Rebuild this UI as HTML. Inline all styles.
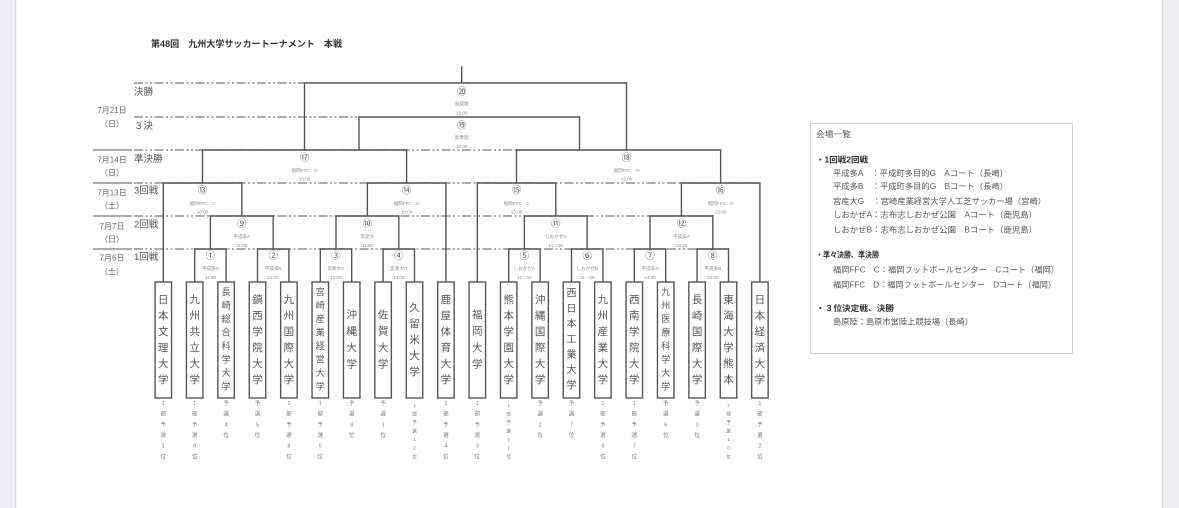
<!DOCTYPE html>
<html><head><meta charset="utf-8"><style>
html,body{margin:0;padding:0;background:#fff;}
svg{display:block;}
text{font-family:"Liberation Sans","Noto Sans CJK JP",sans-serif;}
.n{font-size:10.5px;fill:#555;text-anchor:middle;dominant-baseline:central;}
.n8{font-size:9px;fill:#555;text-anchor:middle;dominant-baseline:central;}
.n7{font-size:10px;fill:#555;text-anchor:middle;dominant-baseline:central;}
.s{font-size:5.5px;fill:#777;text-anchor:middle;dominant-baseline:central;}
.s7{font-size:4.6px;fill:#777;text-anchor:middle;dominant-baseline:central;}
.c{font-size:9.5px;fill:#555;text-anchor:middle;dominant-baseline:central;}
.v{font-size:4.6px;fill:#888;text-anchor:middle;dominant-baseline:central;}
.r{font-size:9.5px;fill:#555;dominant-baseline:central;}
.d{font-size:8px;fill:#666;text-anchor:middle;dominant-baseline:central;}
.l{font-size:8px;fill:#555;dominant-baseline:central;}
.lb{font-size:8px;fill:#333;font-weight:bold;dominant-baseline:central;}
</style></head><body>
<svg width="1179" height="508" viewBox="0 0 1179 508" xmlns="http://www.w3.org/2000/svg">
<rect x="0" y="0" width="1179" height="508" fill="#fff"/>
<!-- gutters -->
<rect x="0" y="0" width="15" height="508" fill="#eeeef3"/>
<rect x="15" y="0" width="1.2" height="508" fill="#d9d9de"/>
<rect x="1163" y="0" width="16" height="508" fill="#eeeef3"/>
<rect x="1161.8" y="0" width="1.4" height="508" fill="#d9d9de"/>

<!-- title -->
<text x="151" y="44" font-size="9" font-weight="bold" fill="#333" dominant-baseline="central" textLength="191" lengthAdjust="spacingAndGlyphs">第48回　九州大学サッカートーナメント　本戦</text>

<!-- row separators -->
<g stroke="#777" stroke-width="1.2" fill="none">
<line x1="93" y1="150" x2="132" y2="150"/>
<line x1="93" y1="183" x2="132" y2="183"/>
<line x1="93" y1="216" x2="132" y2="216"/>
<line x1="93" y1="249" x2="132" y2="249"/>
</g>
<g stroke="#777" stroke-width="1.2" fill="none" stroke-dasharray="9 2.5 2 2.5 2 2.5">
<line x1="134" y1="83" x2="304.5" y2="83"/>
<line x1="134" y1="117" x2="359" y2="117"/>
<line x1="134" y1="150" x2="516.5" y2="150"/>
<line x1="134" y1="183" x2="759.9" y2="183"/>
<line x1="134" y1="216" x2="712.8" y2="216"/>
<line x1="134" y1="249" x2="728.5" y2="249"/>
</g>

<!-- row labels -->
<text class="r" x="134" y="92.7">決勝</text>
<text class="r" x="134" y="126.7">３決</text>
<text class="r" x="134" y="159.3">準決勝</text>
<text class="r" x="134" y="191">3回戦</text>
<text class="r" x="134" y="225">2回戦</text>
<text class="r" x="134" y="257.7">1回戦</text>

<text class="d" x="112" y="110.7">7月21日</text>
<text class="d" x="112" y="124">（日）</text>
<text class="d" x="112" y="160">7月14日</text>
<text class="d" x="112" y="173">（日）</text>
<text class="d" x="112" y="193">7月13日</text>
<text class="d" x="112" y="206">（土）</text>
<text class="d" x="112" y="226.7">7月7日</text>
<text class="d" x="112" y="239.5">（日）</text>
<text class="d" x="112" y="258">7月6日</text>
<text class="d" x="112" y="272">（土）</text>

<!-- bracket lines -->
<g stroke="#555" stroke-width="1.4" fill="none" stroke-linecap="square">
<!-- final -->
<line x1="461.7" y1="67" x2="461.7" y2="83"/>
<line x1="304.5" y1="83" x2="626.5" y2="83"/>
<line x1="304.5" y1="83" x2="304.5" y2="150"/>
<line x1="626.5" y1="83" x2="626.5" y2="150"/>
<!-- third place -->
<line x1="359" y1="117" x2="579.5" y2="117"/>
<line x1="359" y1="117" x2="359" y2="150"/>
<line x1="579.5" y1="117" x2="579.5" y2="150"/>
<!-- SF -->
<line x1="202.5" y1="150" x2="406.6" y2="150"/>
<line x1="516.5" y1="150" x2="720.6" y2="150"/>
<line x1="202.5" y1="150" x2="202.5" y2="183"/>
<line x1="406.6" y1="150" x2="406.6" y2="183"/>
<line x1="516.5" y1="150" x2="516.5" y2="183"/>
<line x1="720.6" y1="150" x2="720.6" y2="183"/>
<!-- QF -->
<line x1="163.3" y1="183" x2="241.8" y2="183"/>
<line x1="367.4" y1="183" x2="445.9" y2="183"/>
<line x1="477.3" y1="183" x2="555.8" y2="183"/>
<line x1="681.4" y1="183" x2="759.9" y2="183"/>
<line x1="241.8" y1="183" x2="241.8" y2="216"/>
<line x1="367.4" y1="183" x2="367.4" y2="216"/>
<line x1="555.8" y1="183" x2="555.8" y2="216"/>
<line x1="681.4" y1="183" x2="681.4" y2="216"/>
<!-- R2 -->
<line x1="210.4" y1="216" x2="273.2" y2="216"/>
<line x1="336" y1="216" x2="398.8" y2="216"/>
<line x1="524.4" y1="216" x2="587.2" y2="216"/>
<line x1="650" y1="216" x2="712.8" y2="216"/>
<line x1="210.4" y1="216" x2="210.4" y2="249"/>
<line x1="273.2" y1="216" x2="273.2" y2="249"/>
<line x1="336" y1="216" x2="336" y2="249"/>
<line x1="398.8" y1="216" x2="398.8" y2="249"/>
<line x1="524.4" y1="216" x2="524.4" y2="249"/>
<line x1="587.2" y1="216" x2="587.2" y2="249"/>
<line x1="650" y1="216" x2="650" y2="249"/>
<line x1="712.8" y1="216" x2="712.8" y2="249"/>
<!-- R1 -->
<line x1="194.7" y1="249" x2="226.1" y2="249"/>
<line x1="257.5" y1="249" x2="288.9" y2="249"/>
<line x1="320.3" y1="249" x2="351.7" y2="249"/>
<line x1="383.1" y1="249" x2="414.5" y2="249"/>
<line x1="508.7" y1="249" x2="540.1" y2="249"/>
<line x1="571.5" y1="249" x2="602.9" y2="249"/>
<line x1="634.3" y1="249" x2="665.7" y2="249"/>
<line x1="697.1" y1="249" x2="728.5" y2="249"/>
<!-- team verticals -->
<line x1="163.3" y1="183" x2="163.3" y2="282"/>
<line x1="194.7" y1="249" x2="194.7" y2="282"/>
<line x1="226.1" y1="249" x2="226.1" y2="282"/>
<line x1="257.5" y1="249" x2="257.5" y2="282"/>
<line x1="288.9" y1="249" x2="288.9" y2="282"/>
<line x1="320.3" y1="249" x2="320.3" y2="282"/>
<line x1="351.7" y1="249" x2="351.7" y2="282"/>
<line x1="383.1" y1="249" x2="383.1" y2="282"/>
<line x1="414.5" y1="249" x2="414.5" y2="282"/>
<line x1="445.9" y1="183" x2="445.9" y2="282"/>
<line x1="477.3" y1="183" x2="477.3" y2="282"/>
<line x1="508.7" y1="249" x2="508.7" y2="282"/>
<line x1="540.1" y1="249" x2="540.1" y2="282"/>
<line x1="571.5" y1="249" x2="571.5" y2="282"/>
<line x1="602.9" y1="249" x2="602.9" y2="282"/>
<line x1="634.3" y1="249" x2="634.3" y2="282"/>
<line x1="665.7" y1="249" x2="665.7" y2="282"/>
<line x1="697.1" y1="249" x2="697.1" y2="282"/>
<line x1="728.5" y1="249" x2="728.5" y2="282"/>
<line x1="759.9" y1="183" x2="759.9" y2="282"/>
</g>

<!-- match labels -->
<text class="c" x="461.7" y="92.3">⑳</text><text class="v" x="461.7" y="104">島原陸</text><text class="v" x="461.7" y="113">13:00</text>
<text class="c" x="461.7" y="126">⑲</text><text class="v" x="461.7" y="137.7">島原陸</text><text class="v" x="461.7" y="146.5">10:00</text>
<text class="c" x="304.5" y="158.3">⑰</text><text class="v" x="304.5" y="170.5">福岡FFC　D</text><text class="v" x="304.5" y="179">10:00</text>
<text class="c" x="626.5" y="158.3">⑱</text><text class="v" x="626.5" y="170.5">福岡FFC　D</text><text class="v" x="626.5" y="179">13:00</text>
<text class="c" x="202.5" y="191">⑬</text><text class="v" x="202.5" y="203.3">福岡FFC　C</text><text class="v" x="202.5" y="212">10:00</text>
<text class="c" x="406.6" y="191">⑭</text><text class="v" x="406.6" y="203.3">福岡FFC　D</text><text class="v" x="406.6" y="212">10:00</text>
<text class="c" x="516.5" y="191">⑮</text><text class="v" x="516.5" y="203.3">福岡FFC　C</text><text class="v" x="516.5" y="212">13:00</text>
<text class="c" x="720.6" y="191">⑯</text><text class="v" x="720.6" y="203.3">福岡FFC　D</text><text class="v" x="720.6" y="212">13:00</text>
<text class="c" x="241.8" y="224.3">⑨</text><text class="v" x="241.8" y="236.3">平成多A</text><text class="v" x="241.8" y="245.3">11:00</text>
<text class="c" x="367.4" y="224.3">⑩</text><text class="v" x="367.4" y="236.3">宮産大</text><text class="v" x="367.4" y="245.3">11:00</text>
<text class="c" x="555.8" y="224.3">⑪</text><text class="v" x="555.8" y="236.3">しおかぜA</text><text class="v" x="555.8" y="245.3">11：00</text>
<text class="c" x="681.4" y="224.3">⑫</text><text class="v" x="681.4" y="236.3">平成多A</text><text class="v" x="681.4" y="245.3">13:30</text>
<text class="c" x="210.4" y="256.7">①</text><text class="v" x="210.4" y="268.7">平成多A</text><text class="v" x="210.4" y="277.3">11:00</text>
<text class="c" x="273.2" y="256.7">②</text><text class="v" x="273.2" y="268.7">平成多B</text><text class="v" x="273.2" y="277.3">11:00</text>
<text class="c" x="336" y="256.7">③</text><text class="v" x="336" y="268.7">宮産大G</text><text class="v" x="336" y="277.3">10:00</text>
<text class="c" x="398.8" y="256.7">④</text><text class="v" x="398.8" y="268.7">宮産大G</text><text class="v" x="398.8" y="277.3">13:00</text>
<text class="c" x="524.4" y="256.7">⑤</text><text class="v" x="524.4" y="268.7">しおかぜA</text><text class="v" x="524.4" y="277.3">11：00</text>
<text class="c" x="587.2" y="256.7">⑥</text><text class="v" x="587.2" y="268.7">しおかぜB</text><text class="v" x="587.2" y="277.3">11：00</text>
<text class="c" x="650" y="256.7">⑦</text><text class="v" x="650" y="268.7">平成多A</text><text class="v" x="650" y="277.3">13:30</text>
<text class="c" x="712.8" y="256.7">⑧</text><text class="v" x="712.8" y="268.7">平成多B</text><text class="v" x="712.8" y="277.3">13:30</text>

<!-- teams -->
<g stroke="#555" stroke-width="1.4" fill="#fff">
<rect x="155.05" y="282" width="16.5" height="116"/>
<rect x="186.45" y="282" width="16.5" height="116"/>
<rect x="217.85" y="282" width="16.5" height="116"/>
<rect x="249.25" y="282" width="16.5" height="116"/>
<rect x="280.65" y="282" width="16.5" height="116"/>
<rect x="312.05" y="282" width="16.5" height="116"/>
<rect x="343.45" y="282" width="16.5" height="116"/>
<rect x="374.85" y="282" width="16.5" height="116"/>
<rect x="406.25" y="282" width="16.5" height="116"/>
<rect x="437.65" y="282" width="16.5" height="116"/>
<rect x="469.05" y="282" width="16.5" height="116"/>
<rect x="500.45" y="282" width="16.5" height="116"/>
<rect x="531.85" y="282" width="16.5" height="116"/>
<rect x="563.25" y="282" width="16.5" height="116"/>
<rect x="594.65" y="282" width="16.5" height="116"/>
<rect x="626.05" y="282" width="16.5" height="116"/>
<rect x="657.45" y="282" width="16.5" height="116"/>
<rect x="688.85" y="282" width="16.5" height="116"/>
<rect x="720.25" y="282" width="16.5" height="116"/>
<rect x="751.65" y="282" width="16.5" height="116"/>
</g>

<g transform="translate(163.3 0)"><text class="n" x="0 0 0 0 0 0" y="300 316 332 348 364 380">日本文理大学</text><text class="s" x="0 0 0 0 0 0" y="404 414.7 425.3 436 446.7 457.3">1部予選1位</text></g>
<g transform="translate(194.7 0)"><text class="n" x="0 0 0 0 0 0" y="300 316 332 348 364 380">九州共立大学</text><text class="s" x="0 0 0 0 0 0" y="404 414.7 425.3 436 446.7 457.3">1部予選9位</text></g>
<g transform="translate(226.1 0)"><text class="n8" x="0 0 0 0 0 0 0 0" y="292 305.5 319 332.5 346 359.5 373 386.5">長崎総合科学大学</text><text class="s" x="0 0 0 0" y="404 414.7 425.3 436">予選4位</text></g>
<g transform="translate(257.5 0)"><text class="n" x="0 0 0 0 0 0" y="300 316 332 348 364 380">鎮西学院大学</text><text class="s" x="0 0 0 0" y="404 414.7 425.3 436">予選5位</text></g>
<g transform="translate(288.9 0)"><text class="n" x="0 0 0 0 0 0" y="300 316 332 348 364 380">九州国際大学</text><text class="s" x="0 0 0 0 0 0" y="404 414.7 425.3 436 446.7 457.3">1部予選8位</text></g>
<g transform="translate(320.3 0)"><text class="n8" x="0 0 0 0 0 0 0 0" y="292 305.5 319 332.5 346 359.5 373 386.5">宮崎産業経営大学</text><text class="s" x="0 0 0 0 0 0" y="404 414.7 425.3 436 446.7 457.3">1部予選5位</text></g>
<g transform="translate(351.7 0)"><text class="n" x="0 0 0 0" y="315 331.5 348 364.5">沖縄大学</text><text class="s" x="0 0 0 0" y="404 414.7 425.3 436">予選8位</text></g>
<g transform="translate(383.1 0)"><text class="n" x="0 0 0 0" y="315 331.5 348 364.5">佐賀大学</text><text class="s" x="0 0 0 0" y="404 414.7 425.3 436">予選1位</text></g>
<g transform="translate(414.5 0)"><text class="n" x="0 0 0 0 0" y="308 324 340 356 372">久留米大学</text><text class="s7" x="0 0 0 0 0 0 0" y="405.5 414 422.5 431 439.5 448 456.5">1部予選12位</text></g>
<g transform="translate(445.9 0)"><text class="n" x="0 0 0 0 0 0" y="300 316 332 348 364 380">鹿屋体育大学</text><text class="s" x="0 0 0 0 0 0" y="404 414.7 425.3 436 446.7 457.3">1部予選4位</text></g>
<g transform="translate(477.3 0)"><text class="n" x="0 0 0 0" y="315 331.5 348 364.5">福岡大学</text><text class="s" x="0 0 0 0 0 0" y="404 414.7 425.3 436 446.7 457.3">1部予選3位</text></g>
<g transform="translate(508.7 0)"><text class="n" x="0 0 0 0 0 0" y="300 316 332 348 364 380">熊本学園大学</text><text class="s7" x="0 0 0 0 0 0 0" y="405.5 414 422.5 431 439.5 448 456.5">1部予選11位</text></g>
<g transform="translate(540.1 0)"><text class="n" x="0 0 0 0 0 0" y="300 316 332 348 364 380">沖縄国際大学</text><text class="s" x="0 0 0 0" y="404 414.7 425.3 436">予選2位</text></g>
<g transform="translate(571.5 0)"><text class="n7" x="0 0 0 0 0 0 0" y="294 309.3 324.7 340 355.3 370.7 386">西日本工業大学</text><text class="s" x="0 0 0 0" y="404 414.7 425.3 436">予選7位</text></g>
<g transform="translate(602.9 0)"><text class="n" x="0 0 0 0 0 0" y="300 316 332 348 364 380">九州産業大学</text><text class="s" x="0 0 0 0 0 0" y="404 414.7 425.3 436 446.7 457.3">1部予選6位</text></g>
<g transform="translate(634.3 0)"><text class="n" x="0 0 0 0 0 0" y="300 316 332 348 364 380">西南学院大学</text><text class="s" x="0 0 0 0 0 0" y="404 414.7 425.3 436 446.7 457.3">1部予選7位</text></g>
<g transform="translate(665.7 0)"><text class="n8" x="0 0 0 0 0 0 0 0" y="292 305.5 319 332.5 346 359.5 373 386.5">九州医療科学大学</text><text class="s" x="0 0 0 0" y="404 414.7 425.3 436">予選6位</text></g>
<g transform="translate(697.1 0)"><text class="n" x="0 0 0 0 0 0" y="300 316 332 348 364 380">長崎国際大学</text><text class="s" x="0 0 0 0" y="404 414.7 425.3 436">予選3位</text></g>
<g transform="translate(728.5 0)"><text class="n" x="0 0 0 0 0 0" y="300 316 332 348 364 380">東海大学熊本</text><text class="s7" x="0 0 0 0 0 0 0" y="405.5 414 422.5 431 439.5 448 456.5">1部予選10位</text></g>
<g transform="translate(759.9 0)"><text class="n" x="0 0 0 0 0 0" y="300 316 332 348 364 380">日本経済大学</text><text class="s" x="0 0 0 0 0 0" y="404 414.7 425.3 436 446.7 457.3">1部予選2位</text></g>

<!-- legend -->
<rect x="810.5" y="123.5" width="262" height="230" fill="#fff" stroke="#cfcfcf" stroke-width="1"/>
<text class="l" x="816" y="134.3" textLength="35" lengthAdjust="spacingAndGlyphs">会場一覧</text>
<text class="lb" x="816" y="160" textLength="52" lengthAdjust="spacingAndGlyphs">・1回戦2回戦</text>
<text class="l" x="833" y="173.3" textLength="175" lengthAdjust="spacingAndGlyphs">平成多A　：平成町多目的G　Aコート（長崎）</text>
<text class="l" x="833" y="186.7" textLength="175" lengthAdjust="spacingAndGlyphs">平成多B　：平成町多目的G　Bコート（長崎）</text>
<text class="l" x="833" y="201.5" textLength="213" lengthAdjust="spacingAndGlyphs">宮産大G　：宮崎産業経営大学人工芝サッカー場（宮崎）</text>
<text class="l" x="833" y="215" textLength="204" lengthAdjust="spacingAndGlyphs">しおかぜA：志布志しおかぜ公園　Aコート（鹿児島）</text>
<text class="l" x="833" y="230" textLength="204" lengthAdjust="spacingAndGlyphs">しおかぜB：志布志しおかぜ公園　Bコート（鹿児島）</text>
<text class="lb" x="816" y="255" textLength="63" lengthAdjust="spacingAndGlyphs">・準々決勝、準決勝</text>
<text class="l" x="833" y="270" textLength="226" lengthAdjust="spacingAndGlyphs">福岡FFC　C：福岡フットボールセンター　Cコート（福岡）</text>
<text class="l" x="833" y="285" textLength="223" lengthAdjust="spacingAndGlyphs">福岡FFC　D：福岡フットボールセンター　Dコート（福岡）</text>
<text class="lb" x="816" y="308.5" textLength="78" lengthAdjust="spacingAndGlyphs">・３位決定戦、決勝</text>
<text class="l" x="833" y="322" textLength="140" lengthAdjust="spacingAndGlyphs">島原陸：島原市営陸上競技場（長崎）</text>
</svg>
</body></html>
